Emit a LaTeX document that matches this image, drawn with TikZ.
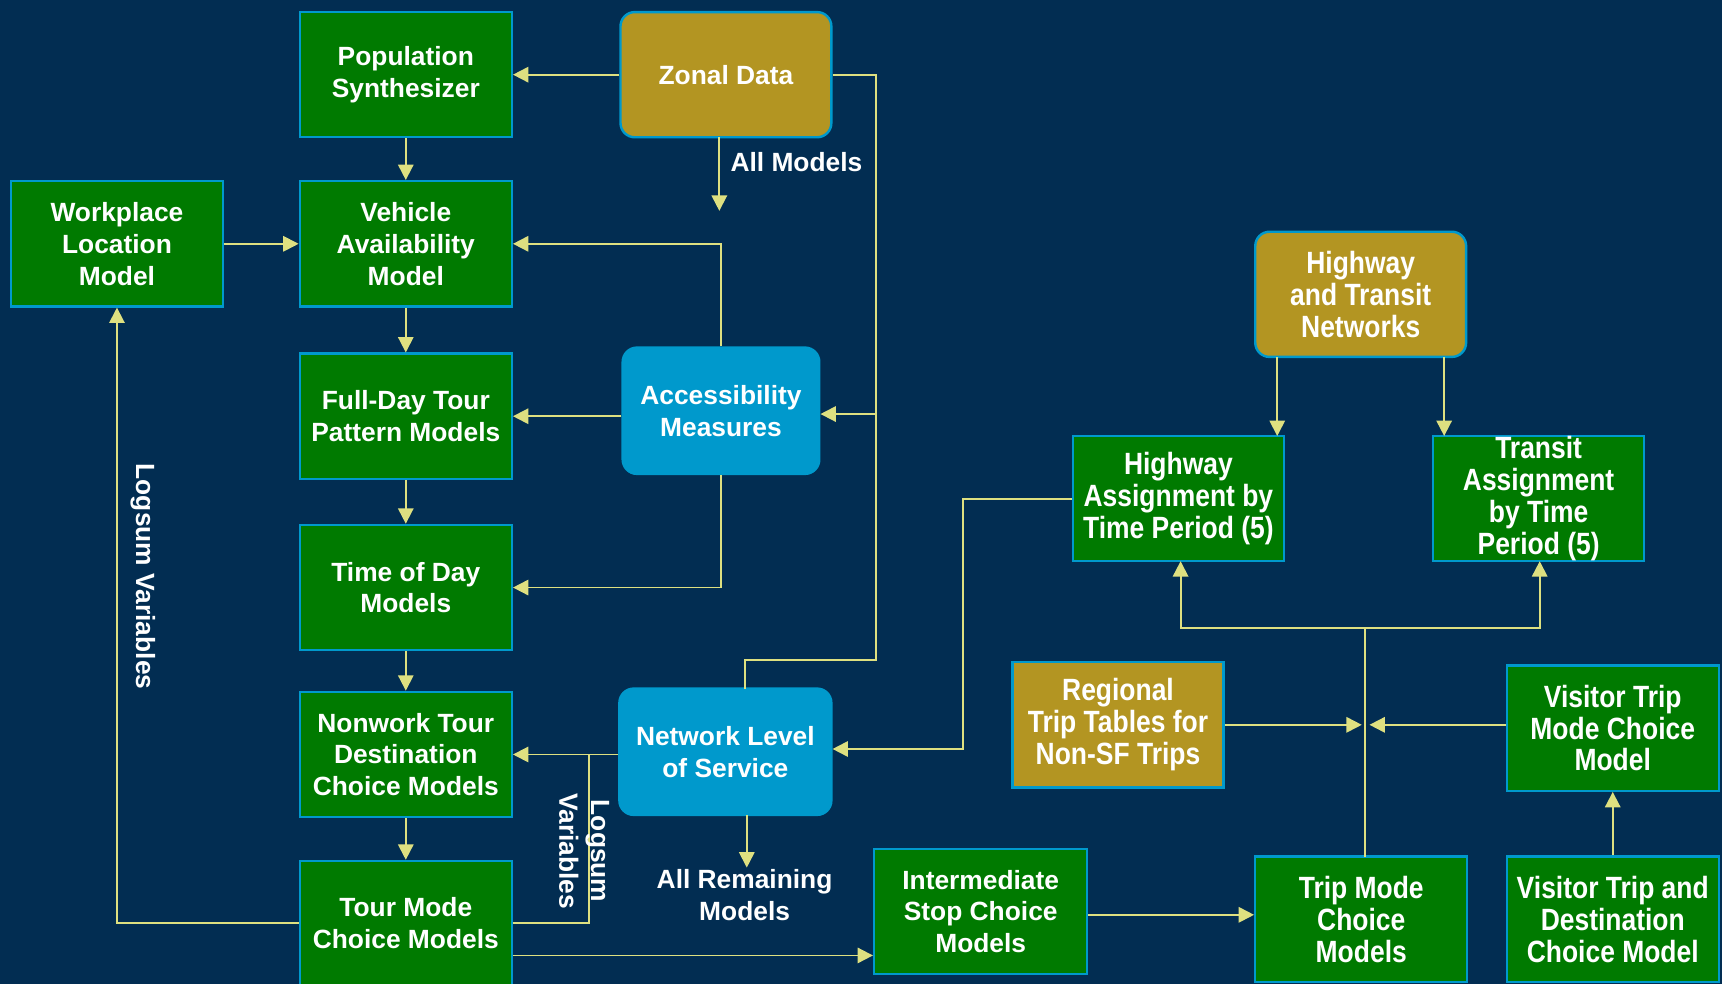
\documentclass[tikz,border=0pt]{standalone}
\usepackage{fontspec}
\setmainfont{Liberation Sans}
\newfontfamily\condf[FakeStretch=0.86]{Liberation Sans}
\usetikzlibrary{arrows.meta}
\definecolor{bgc}{RGB}{2,45,82}
\definecolor{gfill}{RGB}{0,122,0}
\definecolor{gold}{RGB}{179,149,34}
\definecolor{lblue}{RGB}{0,153,204}
\definecolor{lnc}{RGB}{222,224,128}
\tikzset{
  box/.style={draw=lblue, line width=2.2pt, inner sep=0pt, align=center, text=white,
    minimum width=193pt, minimum height=114pt,
    font=\fontsize{24}{29}\selectfont\bfseries},
  gbox/.style={box, fill=gfill},
  cbox/.style={font=\condf\fontsize{28}{29}\selectfont\bfseries},
  goldbox/.style={box, fill=gold},
  rbox/.style={rounded corners=13pt},
  abox/.style={box, fill=lblue, rounded corners=13pt},
  conn/.style={draw=lnc, line width=1.7pt},
  arr/.style={conn, -{Triangle[length=14pt,width=14pt]}},
  lbl/.style={text=white, align=center, inner sep=0pt, font=\fontsize{24}{29}\selectfont\bfseries}
}
\begin{document}
\begin{tikzpicture}[x=1pt,y=-1pt]
\fill[bgc] (0,0) rectangle (1568,896);
\useasboundingbox (0,0) rectangle (1568,896);

% left column
\node[gbox] (pop) at (369.5,68) {Population\\Synthesizer};
\node[goldbox, rbox, minimum width=192pt] (zonal) at (661,68) {Zonal Data};
\node[gbox] (work) at (106.5,222) {Workplace\\Location\\Model};
\node[gbox] (veh) at (369.5,222) {Vehicle\\Availability\\Model};
\node[gbox] (fullday) at (369.5,379) {Full-Day Tour\\Pattern Models};
\node[abox, minimum width=179pt, minimum height=115pt] (access) at (656.5,374) {Accessibility\\Measures};
\node[gbox] (tod) at (369.5,535) {Time of Day\\Models};
\node[gbox] (nonwork) at (369.5,687) {Nonwork Tour\\Destination\\Choice Models};
\node[abox, minimum height=115pt] (nls) at (660.5,684.5) {Network Level\\of Service};
\node[gbox, minimum height=113pt] (tour) at (369.5,840.5) {Tour Mode\\Choice Models};
\node[gbox, minimum width=194pt] (inter) at (893,830) {Intermediate\\Stop Choice\\Models};

% right part
\node[gbox, cbox] (tripmode) at (1239.5,837) {Trip Mode\\Choice\\Models};
\node[gbox, cbox] (vtdc) at (1468.5,837) {Visitor Trip and\\Destination\\Choice Model};
\node[gbox, cbox] (vtmc) at (1468.5,663) {Visitor Trip\\Mode Choice\\Model};
\node[goldbox, cbox, minimum width=192pt] (regional) at (1018,660) {Regional\\Trip Tables for\\Non-SF Trips};
\node[gbox, cbox, minimum width=192pt] (hwyassign) at (1073,454) {Highway\\Assignment by\\Time Period (5)};
\node[gbox, cbox, minimum width=192pt] (trassign) at (1401,454) {Transit\\Assignment\\by Time\\Period (5)};
\node[goldbox, rbox, cbox, minimum width=192pt] (htn) at (1239,268) {Highway\\and Transit\\Networks};

% connectors, left
\draw[arr] (zonal.west) -- (pop.east);
\draw[conn] (zonal.east) -| (798,601) -| (678,627);
\draw[arr] (798,377) -- (access.east |- 0,377);
\draw[arr] (655,125) -- (655,192);
\node[lbl, anchor=west] (allm) at (665,148) {All Models};
\draw[arr] (pop.south) -- (veh.north);
\draw[arr] (work.east) -- (veh.west);
\draw[arr] (access.north) |- (veh.east);
\draw[arr] (access.west |- fullday.east) -- (fullday.east);
\draw[arr] (access.south) |- (tod.east);
\draw[arr] (veh.south) -- (fullday.north);
\draw[arr] (fullday.south) -- (tod.north);
\draw[arr] (tod.south) -- (nonwork.north);
\draw[arr] (nonwork.south) -- (tour.north);
\draw[arr] (nls.west |- nonwork.east) -- (nonwork.east);
\draw[conn] (536,687) |- (tour.east);
\draw[arr] (tour.west) -| (work.south);
\draw[arr] (tour.east |- 0,870) -- (inter.west |- 0,870);
\draw[arr] (680,742) -- (680,790);
\node[lbl] (allrem) at (678,815) {All Remaining\\Models};
\node[lbl, rotate=-90] (lv1) at (130,525) {Logsum Variables};
\node[lbl, rotate=-90] (lv2) at (532,775) {Logsum\\Variables};

% connectors, right
\draw[arr] (hwyassign.west) -| (877,682) -- (nls.east |- 0,682);
\draw[arr] (1163,325) -- (1163,397);
\draw[arr] (1315,325) -- (1315,397);
\draw[conn] (1243,780) -- (1243,572);
\draw[arr] (1243,572) -| (1075,511);
\draw[arr] (1243,572) -| (1402,511);
\draw[arr] (regional.east) -- (1240,660);
\draw[arr] (vtmc.west |- 0,660) -- (1247,660);
\draw[arr] (vtdc.north) -- (vtmc.south);
\draw[arr] (inter.east |- 0,833) -- (tripmode.west |- 0,833);
\end{tikzpicture}
\end{document}
